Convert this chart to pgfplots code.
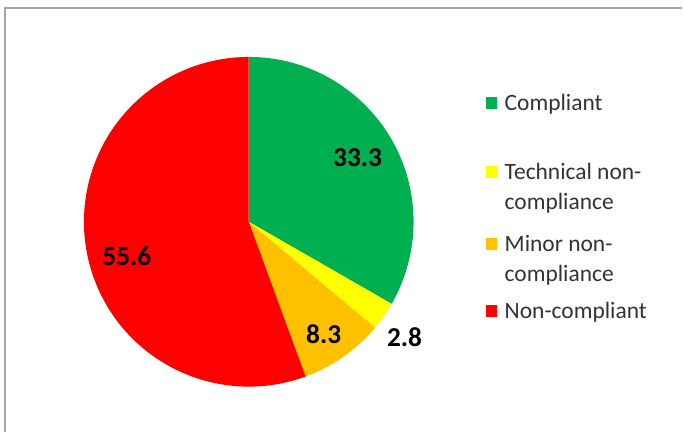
\documentclass[border=0pt]{standalone}
\usepackage{pgfplots}
\usepackage{pgfplotstable}
\pgfplotsset{compat=1.18}
\usepackage{fontspec}
\setmainfont{Carlito}
\definecolor{cgreen}{HTML}{00B050}
\definecolor{cyellow}{HTML}{FFFF00}
\definecolor{corange}{HTML}{FFC000}
\definecolor{cred}{HTML}{FF0000}
\definecolor{frame}{HTML}{A6A6A6}
\definecolor{legtext}{HTML}{333333}
% label position (x, y in px from bottom) and share (%)
\pgfplotstableread{
x y value
358 274 33.3
405 94 2.8
324 97 8.3
127 175 55.6
}\piedata
\pgfplotstablegetelem{0}{value}\of\piedata \let\vA\pgfplotsretval
\pgfplotstablegetelem{1}{value}\of\piedata \let\vB\pgfplotsretval
\pgfplotstablegetelem{2}{value}\of\piedata \let\vC\pgfplotsretval
\pgfplotstablegetelem{3}{value}\of\piedata \let\vD\pgfplotsretval
\pgfmathsetmacro\aA{90}
\pgfmathsetmacro\aB{\aA-3.6*\vA}
\pgfmathsetmacro\aC{\aB-3.6*\vB}
\pgfmathsetmacro\aD{\aC-3.6*\vC}
\pgfmathsetmacro\aE{\aD-3.6*\vD}
\newcommand\slice[3]{%
  \fill[#3] (axis cs:249,210) -- ([shift={(#1:123.75pt)}]axis cs:249,210)
    arc[start angle=#1, end angle=#2, radius=123.75pt] -- cycle;}
\begin{document}
\begin{tikzpicture}
\begin{axis}[hide axis, scale only axis, width=512.25pt, height=324pt,
  xmin=0, xmax=683, ymin=0, ymax=432, clip=false]
\fill[white] (axis cs:0,0) rectangle (axis cs:683,432);
\draw[frame, line width=1.1pt] (axis cs:5,0) -- (axis cs:5,424) -- (axis cs:683,424);
\slice{\aA}{\aB}{cgreen}
\slice{\aB}{\aC}{cyellow}
\slice{\aC}{\aD}{corange}
\slice{\aD}{\aE}{cred}
\addplot[draw=none, mark=none, point meta=explicit symbolic,
  nodes near coords, nodes near coords align={center},
  every node near coord/.append style={font=\fontsize{20.5}{24}\selectfont\bfseries, text=black, inner sep=0pt, anchor=center}]
  table[x=x, y=y, meta=value]{\piedata};
% legend
\fill[cgreen]  (axis cs:487,323) rectangle (axis cs:498,335);
\fill[cyellow] (axis cs:487,254) rectangle (axis cs:498,266);
\fill[corange] (axis cs:487,182) rectangle (axis cs:498,194);
\fill[cred]    (axis cs:487,115) rectangle (axis cs:498,127);
\begin{scope}[every node/.style={anchor=base west, inner sep=0pt, text=legtext, font=\fontsize{17.6}{21}\selectfont}]
\node at (axis cs:505,321.5) {Compliant};
\node at (axis cs:505,252.5) {Technical non-};
\node at (axis cs:505,222.5) {compliance};
\node at (axis cs:505,180.5) {Minor non-};
\node at (axis cs:505,150.5) {compliance};
\node at (axis cs:505,113) {Non-compliant};
\end{scope}
\path (axis cs:0,0) rectangle (axis cs:683,432);
\end{axis}
\end{tikzpicture}
\end{document}
